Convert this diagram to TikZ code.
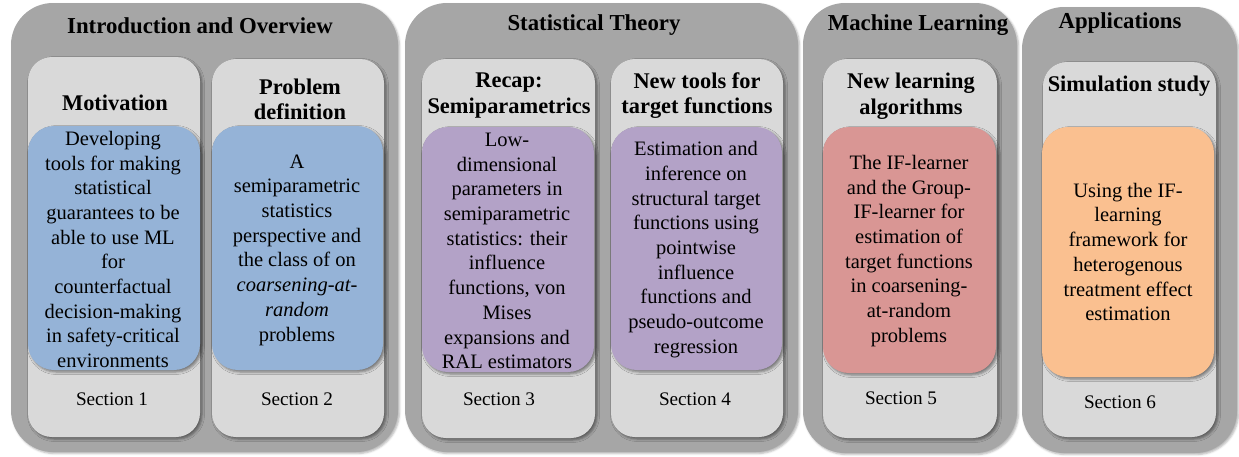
\documentclass[tikz,border=0pt]{standalone}
\usepackage{fontspec}
\setmainfont{Liberation Serif}
\usetikzlibrary{shadows,shadows.blur}
\definecolor{outergray}{HTML}{A6A6A6}
\definecolor{innergray}{HTML}{D9D9D9}
\definecolor{topicblue}{HTML}{95B3D7}
\definecolor{topicpurple}{HTML}{B3A2C7}
\definecolor{topicred}{HTML}{D99694}
\definecolor{topicorange}{HTML}{FAC090}
\def\roundbox[#1](#2,#3)(#4,#5){\draw[#1] (#2,#3) rectangle (#4,#5);}

\begin{document}
\begin{tikzpicture}[x=1pt,y=-1pt,
	outerbox/.style={fill=outergray, draw=none, rounded corners=42pt,
		blur shadow={shadow xshift=1.5pt, shadow yshift=-1.5pt, shadow blur radius=2pt, shadow opacity=30}},
	innerbox/.style={fill=innergray, draw=none, rounded corners=24pt,
		blur shadow={shadow xshift=2pt, shadow yshift=-2pt, shadow blur radius=2.5pt, shadow opacity=45}},
	topicbox/.style={draw=none, rounded corners=26pt,
		blur shadow={shadow xshift=2pt, shadow yshift=-2pt, shadow blur radius=2.5pt, shadow opacity=45}},
	grouptitle/.style={font=\bfseries\fontsize{22.8}{26}\selectfont},
	heading/.style={font=\bfseries\fontsize{22.4}{25.5}\selectfont, align=center},
	bodytext/.style={font=\fontsize{20.5}{24.7}\selectfont, align=center},
	sectext/.style={font=\fontsize{19.2}{22}\selectfont}]
			%%%%% START %%%%%
			\useasboundingbox (0,0) rectangle (1239,456);
			
			% group panels
			\roundbox[outerbox](11,3)(398,452)
			\roundbox[outerbox](405,3)(798,452)
			\roundbox[outerbox](803,3)(1017,453)
			\roundbox[outerbox](1022,7)(1237,453)
			
			\node[grouptitle] (introtitle) at (200,26) {Introduction and Overview};
			\node[grouptitle] (stattitle) at (594,25) {Statistical Theory};
			\node[grouptitle] (mltitle) at (918,25) {Machine Learning};
			\node[grouptitle] (apptitle) at (1120,23) {Applications};
			
			% section panels
			\roundbox[innerbox](28,57)(200,437)
			\roundbox[innerbox](212,59)(384,437)
			\roundbox[innerbox](422,59)(595,438)
			\roundbox[innerbox](611,59)(783,437)
			\roundbox[innerbox](823,59)(997,438)
			\roundbox[innerbox](1043,62)(1216,437)
			
			% topic boxes
			\roundbox[topicbox, fill=topicblue](28,126)(200,370)
			\roundbox[topicbox, fill=topicblue](212,126)(383,370)
			\roundbox[topicbox, fill=topicpurple](422,127)(594,372)
			\roundbox[topicbox, fill=topicpurple](611,127)(782,370)
			\roundbox[topicbox, fill=topicred](823,127)(996,373)
			\roundbox[topicbox, fill=topicorange](1042,127)(1214,377)
			
			% headings
			\node[heading] (motiv) at (115,103) {Motivation};
			\node[heading] (probdef) at (300,99.5) {Problem\\definition};
			\node[heading] (recap) at (509,95.5) {Recap:\\Semiparametrics};
			\node[heading] (newtools) at (697,95.5) {New tools for\\target functions};
			\node[heading] (newlearn) at (911,96) {New learning\\algorithms};
			\node[heading] (simstudy) at (1129,86) {Simulation study};
			
			% contents
			\node[bodytext] (motivtext) at (113,249.5) {Developing\\tools for making\\statistical\\guarantees to be\\able to use ML\\for\\counterfactual\\decision-making\\in safety-critical\\environments};
			\node[bodytext] (probtext) at (297,250) {A\\semiparametric\\statistics\\perspective and\\the class of on\\\textit{coarsening-at-}\\\textit{random}\\problems};
			\node[bodytext] (recaptext) at (507,251) {Low-\\dimensional\\parameters in\\semiparametric\\statistics: their\\influence\\functions, von\\Mises\\expansions and\\RAL estimators};
			\node[bodytext] (toolstext) at (696,249.5) {Estimation and\\inference on\\structural target\\functions using\\pointwise\\influence\\functions and\\pseudo-outcome\\regression};
			\node[bodytext] (learntext) at (909,251) {The IF-learner\\and the Group-\\IF-learner for\\estimation of\\target functions\\in coarsening-\\at-random\\problems};
			\node[bodytext] (simtext) at (1128,252) {Using the IF-\\learning\\framework for\\heterogenous\\treatment effect\\estimation};
			
			% section numbers
			\node[sectext] (sec1) at (112,399) {Section 1};
			\node[sectext] (sec2) at (297,399) {Section 2};
			\node[sectext] (sec3) at (499,399) {Section 3};
			\node[sectext] (sec4) at (695,399) {Section 4};
			\node[sectext] (sec5) at (901,398) {Section 5};
			\node[sectext] (sec6) at (1120,402) {Section 6};
			%%%%% END %%%%%
\end{tikzpicture}
\end{document}
